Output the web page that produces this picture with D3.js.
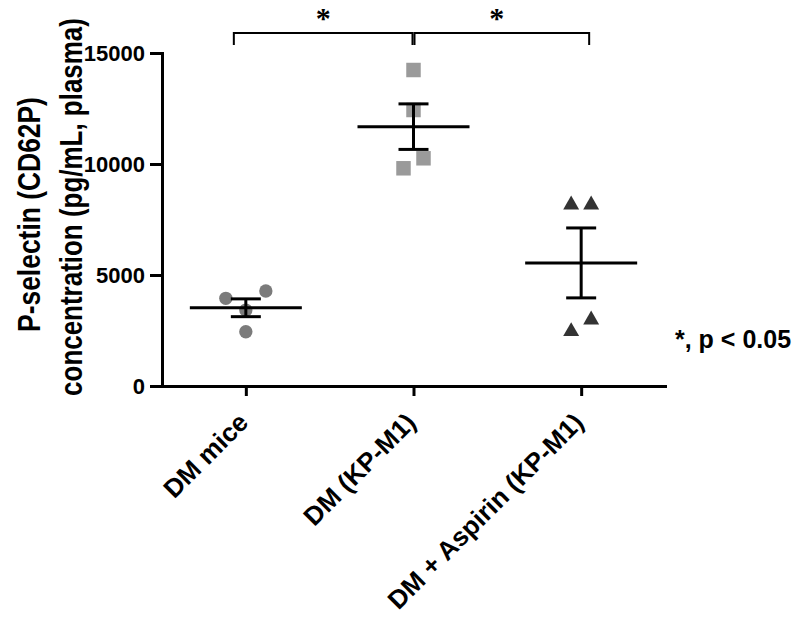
<!DOCTYPE html>
<html><head><meta charset="utf-8">
<script src="https://cdn.jsdelivr.net/npm/d3@7"></script>
<style>body{margin:0;background:#fff}</style>
</head><body>
<svg id="chart" width="800" height="619"></svg>
<script>
// ---- data ----
const categories = ["DM mice", "DM (KP-M1)", "DM + Aspirin (KP-M1)"];
const dmMice    = [3950, 3420, 4280, 2445];
const dmKP      = [14234, 12432, 9807, 10257];
const dmAspirin = [8266, 8266, 2559, 3086];
const yTicks = [0, 5000, 10000, 15000];
const comparisons = [[0, 1, "*"], [1, 2, "*"]];
const yTitle = ["P-selectin (CD62P)", "concentration (pg/mL, plasma)"];
const note = "*, p < 0.05";

// ---- layout ----
const W = 800, H = 619;
const m = {left: 162, right: 135, top: 53, bottom: 233};
const svg = d3.select("#chart");
const sans = "'Liberation Sans', Arial, sans-serif";

const x = d3.scalePoint().domain(categories).range([m.left, W - m.right]).padding(0.5);
const y = d3.scaleLinear().domain([0, 15000]).range([H - m.bottom, m.top]);

const groups = [dmMice, dmKP, dmAspirin];
const symbols = [d3.symbolCircle, d3.symbolSquare, d3.symbolTriangle];
const symSize = [140, 210, 110];
const colors = ["#7b7b7b", "#9a9a9a", "#333333"];

// simple swarm: cluster points that are close vertically, spread them horizontally
function swarm(vals) {
  const idx = vals.map((v, i) => i).sort((a, b) => vals[b] - vals[a]);
  const clusters = []; let cur = null;
  idx.forEach(i => {
    if (cur && y(vals[i]) - y(vals[cur[0]]) < 22) cur.push(i);
    else { cur = [i]; clusters.push(cur); }
  });
  const off = vals.map(() => 0);
  clusters.forEach(c => {
    c.sort((a, b) => a - b);
    c.forEach((i, k) => off[i] = (k - (c.length - 1) / 2) * 20);
  });
  return off;
}

// markers
groups.forEach((vals, g) => {
  const off = swarm(vals);
  const sym = d3.symbol().type(symbols[g]).size(symSize[g]);
  let dy = 0;
  if (g === 2) { dy = Math.sqrt(symSize[g] / (Math.sqrt(3) * 3)) / 2; }
  svg.append("g").selectAll("path").data(vals).join("path")
    .attr("d", sym)
    .attr("transform", (d, i) => `translate(${x(categories[g]) + off[i]},${y(d) + dy})`)
    .attr("fill", colors[g]);
});

// mean +- SEM
groups.forEach((vals, g) => {
  const cx = x(categories[g]);
  const mean = d3.mean(vals);
  const sem = d3.deviation(vals) / Math.sqrt(vals.length);
  const gg = svg.append("g").attr("stroke", "#000").attr("stroke-width", 3);
  gg.append("line").attr("x1", cx - 56).attr("x2", cx + 56).attr("y1", y(mean)).attr("y2", y(mean));
  gg.append("line").attr("x1", cx).attr("x2", cx).attr("y1", y(mean + sem)).attr("y2", y(mean - sem));
  [mean + sem, mean - sem].forEach(v =>
    gg.append("line").attr("x1", cx - 15).attr("x2", cx + 15).attr("y1", y(v)).attr("y2", y(v)));
});

// axes
const yAxis = svg.append("g").attr("transform", `translate(${m.left},0)`)
  .call(d3.axisLeft(y).tickValues(yTicks).tickSize(12).tickSizeOuter(0).tickPadding(5).tickFormat(d3.format("d")));
const xAxis = svg.append("g").attr("transform", `translate(0,${y(0)})`)
  .call(d3.axisBottom(x).tickSize(10).tickSizeOuter(0));
[yAxis, xAxis].forEach(a => {
  a.select(".domain").attr("stroke", "#000").attr("stroke-width", 3).attr("stroke-linecap", "square");
  a.selectAll(".tick line").attr("stroke", "#000").attr("stroke-width", 3);
});
yAxis.attr("font-size", 22);
yAxis.selectAll("text").attr("font-family", sans).attr("font-weight", "bold")
  .attr("font-size", 22).attr("fill", "#000");
xAxis.selectAll(".tick text").remove();

// x labels rotated
svg.append("g").selectAll("text").data(categories).join("text")
  .attr("transform", d => `translate(${x(d) + 4},424) rotate(-45)`)
  .attr("text-anchor", "end")
  .attr("font-family", sans).attr("font-weight", "bold").attr("font-size", 26)
  .text(d => d);

// y title (condensed bold)
const titleLen = [235, 378];
const titlePos = [[40, 214.5], [82, 207]];
yTitle.forEach((t, i) => {
  const el = svg.append("text")
    .attr("text-anchor", "middle")
    .attr("font-family", sans).attr("font-weight", "bold").attr("font-size", 32)
    .text(t);
  const natural = el.node().getComputedTextLength();
  const sx = titleLen[i] / natural;
  el.attr("transform", `translate(${titlePos[i][0]},${titlePos[i][1]}) rotate(-90) scale(${sx},1)`);
});

// significance brackets
comparisons.forEach(([a, b, lab], k) => {
  const x1 = k === 0 ? x(categories[a]) - 12 : x(categories[a]) + 1;
  const x2 = k === 0 ? x(categories[b]) - 1 : x(categories[b]) + 8;
  const top = m.top - 20, leg = m.top - 8;
  svg.append("path")
    .attr("d", `M${x1},${leg}V${top}H${x2}V${leg}`)
    .attr("fill", "none").attr("stroke", "#000").attr("stroke-width", 2);
  svg.append("text").attr("x", (x1 + x2) / 2 - (k === 0 ? 0 : 5)).attr("y", 28)
    .attr("text-anchor", "middle")
    .attr("font-family", "'Liberation Serif', 'Times New Roman', serif")
    .attr("font-weight", "bold").attr("font-size", 30)
    .text(lab);
});

// note
svg.append("text").attr("x", 675).attr("y", 348)
  .attr("font-family", sans).attr("font-weight", "bold").attr("font-size", 25)
  .text(note);
</script>
</body></html>
